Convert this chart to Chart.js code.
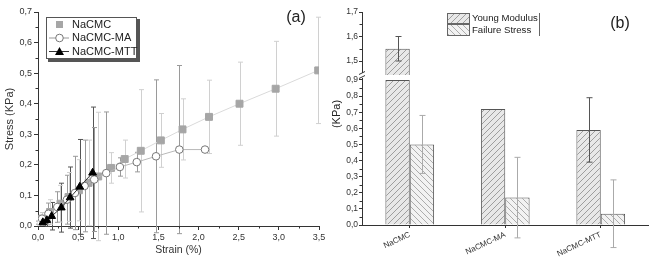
<!DOCTYPE html>
<html>
<head>
<meta charset="utf-8">
<script src="https://cdn.jsdelivr.net/npm/chart.js@4.4.1/dist/chart.umd.min.js"></script>
<style>
  body { margin: 0; background: #fff; }
  #wrap { position: relative; width: 656px; height: 262px; }
  #boxA { position: absolute; left: 0; top: 0; }
  #boxB { position: absolute; left: 330px; top: 0; }
</style>
</head>
<body>
<div id="wrap">
  <div id="boxA"><canvas id="chartA" width="330" height="262"></canvas></div>
  <div id="boxB"><canvas id="chartB" width="326" height="262"></canvas></div>
</div>
<script>
// panel (a): stress-strain curves
const nacmcStrain = [0.01, 0.05, 0.15, 0.28, 0.38, 0.51, 0.63, 0.75, 0.91, 1.08, 1.28, 1.53, 1.80, 2.13, 2.51, 2.96, 3.49];
const nacmcStress = [0.008, 0.024, 0.046, 0.073, 0.095, 0.117, 0.141, 0.162, 0.19, 0.219, 0.246, 0.28, 0.316, 0.357, 0.40, 0.449, 0.509];
const nacmcErr = [0.005, 0.02, 0.04, 0.06, 0.08, 0.10, 0.14, 0.21, 0.05, 0.062, 0.2, 0.088, 0.1, 0.12, 0.136, 0.155, 0.174];

const maStrain = [0.0, 0.05, 0.13, 0.24, 0.36, 0.46, 0.58, 0.70, 0.85, 1.02, 1.23, 1.47, 1.76, 2.08];
const maStress = [0.011, 0.024, 0.040, 0.062, 0.086, 0.108, 0.131, 0.152, 0.173, 0.193, 0.209, 0.228, 0.25, 0.25];
const maErr = [0.005, 0.02, 0.035, 0.05, 0.08, 0.12, 0.15, 0.17, 0.2, 0.03, 0.032, 0.25, 0.275, 0.0];

const mttStrain = [0.06, 0.11, 0.17, 0.29, 0.40, 0.52, 0.68];
const mttStress = [0.012, 0.019, 0.032, 0.060, 0.093, 0.128, 0.174];
const mttErr = [0.01, 0.02, 0.045, 0.08, 0.1, 0.155, 0.215];

// panel (b): moduli
const samples = ['NaCMC', 'NaCMC-MA', 'NaCMC-MTT'];
const youngModulus = [1.55, 0.72, 0.59];
const youngErr = [0.05, 0, 0.2];
const failureStress = [0.50, 0.17, 0.07];
const failureErr = [0.18, 0.25, 0.21];
const lowTicks = [0, 0.1, 0.2, 0.3, 0.4, 0.5, 0.6, 0.7, 0.8, 0.9];
const highTicks = [1.5, 1.6, 1.7];
const breakLow = 0.931, breakHigh = 1.443;

const FONT = "'Liberation Sans', Arial, sans-serif";
const comma = v => v.toFixed(1).replace('.', ',');
const pts = (xs, ys) => xs.map((x, i) => ({x: x, y: ys[i]}));

function hatch(dir, bg, fg) {
    const c = document.createElement('canvas');
    c.width = 6; c.height = 6;
    const g = c.getContext('2d');
    g.fillStyle = bg; g.fillRect(0, 0, 6, 6);
    g.strokeStyle = fg; g.lineWidth = 0.9;
    g.beginPath();
    if (dir > 0) {
        g.moveTo(-1, 7); g.lineTo(7, -1);
        g.moveTo(-4, 4); g.lineTo(4, -4);
        g.moveTo(2, 10); g.lineTo(10, 2);
    } else {
        g.moveTo(-1, -1); g.lineTo(7, 7);
        g.moveTo(-4, 2); g.lineTo(4, 10);
        g.moveTo(2, -4); g.lineTo(10, 4);
    }
    g.stroke();
    return document.createElement('canvas').getContext('2d').createPattern(c, 'repeat');
}
const youngFill = hatch(1, '#e8e8e8', '#959595');
const failFill = hatch(-1, '#f2f2f2', '#a4a4a4');

const minorTicks = {
    id: 'minorTicks',
    afterDraw(chart, args, opts) {
        const ctx = chart.ctx;
        ctx.save();
        ctx.strokeStyle = '#333';
        ctx.lineWidth = 1;
        (opts.axes || []).forEach(id => {
            const s = chart.scales[id];
            const t = s.ticks;
            for (let k = 0; k < t.length - 1; k++) {
                const p = Math.round(s.getPixelForValue((t[k].value + t[k + 1].value) / 2)) + 0.5;
                ctx.beginPath();
                if (s.isHorizontal()) { ctx.moveTo(p, s.top); ctx.lineTo(p, s.top + 2.5); }
                else { ctx.moveTo(s.right, p); ctx.lineTo(s.right - 2.5, p); }
                ctx.stroke();
            }
        });
        ctx.restore();
    }
};

function vbar(ctx, x, y1, y2, cap) {
    ctx.beginPath();
    ctx.moveTo(x, y1); ctx.lineTo(x, y2);
    ctx.moveTo(x - cap, y1); ctx.lineTo(x + cap, y1);
    ctx.moveTo(x - cap, y2); ctx.lineTo(x + cap, y2);
    ctx.stroke();
}

const errBarsA = {
    id: 'errBarsA',
    beforeDatasetsDraw(chart) {
        const {ctx, scales: {x, y}} = chart;
        ctx.save();
        ctx.lineWidth = 1;
        chart.data.datasets.forEach(ds => {
            ctx.strokeStyle = ds.errColor;
            ds.data.forEach((p, i) => {
                const e = ds.errors[i];
                if (!e) return;
                const px = Math.round(x.getPixelForValue(p.x)) + 0.5;
                vbar(ctx, px, y.getPixelForValue(p.y + e), y.getPixelForValue(p.y - e), 2.5);
            });
        });
        ctx.restore();
    }
};

const legendA = {
    id: 'legendA',
    afterDraw(chart) {
        const ctx = chart.ctx;
        ctx.save();
        ctx.fillStyle = '#555';
        ctx.fillRect(48, 19, 92, 43);
        ctx.fillStyle = '#fff';
        ctx.fillRect(46, 17, 91, 42);
        ctx.strokeStyle = '#555';
        ctx.lineWidth = 1;
        ctx.strokeRect(46.5, 17.5, 90, 41);
        const rows = [24.5, 38, 51.5];
        ctx.fillStyle = '#a6a6a6';
        ctx.fillRect(56, rows[0] - 3.5, 7, 7);
        ctx.strokeStyle = '#999';
        ctx.beginPath(); ctx.moveTo(49, rows[1]); ctx.lineTo(69, rows[1]); ctx.stroke();
        ctx.beginPath(); ctx.arc(59.5, rows[1], 3.8, 0, Math.PI * 2);
        ctx.fillStyle = '#fff'; ctx.fill(); ctx.strokeStyle = '#777'; ctx.stroke();
        ctx.strokeStyle = '#333';
        ctx.beginPath(); ctx.moveTo(49, rows[2]); ctx.lineTo(69, rows[2]); ctx.stroke();
        ctx.fillStyle = '#000';
        ctx.beginPath();
        ctx.moveTo(59.5, rows[2] - 4.5); ctx.lineTo(64, rows[2] + 3.5); ctx.lineTo(55, rows[2] + 3.5);
        ctx.closePath(); ctx.fill();
        ctx.fillStyle = '#222';
        ctx.font = '11px ' + FONT;
        ctx.textBaseline = 'middle';
        ['NaCMC', 'NaCMC-MA', 'NaCMC-MTT'].forEach((t, i) => ctx.fillText(t, 72, rows[i]));
        ctx.font = '16px ' + FONT;
        ctx.textAlign = 'center';
        ctx.fillText('(a)', 296, 18);
        ctx.restore();
    }
};

const tickFont = {family: FONT, size: 9};

new Chart(document.getElementById('chartA'), {
    type: 'scatter',
    data: {
        datasets: [{
            label: 'NaCMC-MTT',
            data: pts(mttStrain, mttStress),
            errors: mttErr, errColor: '#555',
            showLine: true, borderColor: '#333', borderWidth: 1,
            pointStyle: 'triangle', pointRadius: 4.5,
            pointBackgroundColor: '#000', pointBorderColor: '#000'
        }, {
            label: 'NaCMC-MA',
            data: pts(maStrain, maStress),
            errors: maErr, errColor: '#9a9a9a',
            showLine: true, borderColor: '#b8b8b8', borderWidth: 1,
            pointStyle: 'circle', pointRadius: 3.8, pointBorderWidth: 1,
            pointBackgroundColor: '#fff', pointBorderColor: '#777'
        }, {
            label: 'NaCMC',
            data: pts(nacmcStrain, nacmcStress),
            errors: nacmcErr, errColor: '#d0d0d0',
            showLine: true, borderColor: '#dadada', borderWidth: 1,
            pointStyle: 'rect', pointRadius: 4.9,
            pointBackgroundColor: '#a6a6a6', pointBorderColor: '#a6a6a6'
        }]
    },
    options: {
        responsive: false,
        animation: false,
        layout: {padding: {top: 12, right: 11, left: 0, bottom: 0}},
        plugins: {
            legend: {display: false},
            tooltip: {enabled: false},
            minorTicks: {axes: ['x', 'y']}
        },
        scales: {
            x: {
                type: 'linear', min: 0, max: 3.5,
                afterFit: s => { s.height = 36; },
                grid: {drawOnChartArea: false, tickLength: 4, color: '#333'},
                border: {color: '#333'},
                ticks: {stepSize: 0.5, padding: 2, color: '#333', font: tickFont, callback: comma, maxRotation: 0},
                title: {display: true, text: 'Strain (%)', color: '#333', font: {family: FONT, size: 10.5}, padding: 6}
            },
            y: {
                min: 0, max: 0.7,
                afterFit: s => { s.width = 38; },
                grid: {drawOnChartArea: false, tickLength: 4, color: '#333'},
                border: {color: '#333'},
                ticks: {stepSize: 0.1, padding: 2, color: '#333', font: tickFont, callback: comma},
                title: {display: true, text: 'Stress (KPa)', color: '#333', font: {family: FONT, size: 11}, padding: 3}
            }
        }
    },
    plugins: [errBarsA, minorTicks, legendA]
});

const errBarsB = {
    id: 'errBarsB',
    afterDatasetsDraw(chart) {
        const {ctx, scales} = chart;
        ctx.save();
        ctx.lineWidth = 1;
        const series = [
            {vals: youngModulus, errs: youngErr, color: '#555'},
            {vals: failureStress, errs: failureErr, color: '#aaa'}
        ];
        series.forEach((s, k) => {
            ctx.strokeStyle = s.color;
            s.vals.forEach((v, i) => {
                if (!s.errs[i]) return;
                const high = v > breakLow;
                const meta = chart.getDatasetMeta(k === 0 ? (high ? 1 : 0) : 2);
                const ax = scales[high ? 'yHigh' : 'yLow'];
                const px = Math.round(meta.data[i].x) + 0.5;
                vbar(ctx, px, ax.getPixelForValue(v + s.errs[i]), ax.getPixelForValue(v - s.errs[i]), 3);
            });
        });
        ctx.restore();
    }
};

const decoB = {
    id: 'decoB',
    afterDraw(chart) {
        const {ctx, scales: {yLow, yHigh}} = chart;
        ctx.save();
        // axis break
        const x0 = yLow.right;
        const yb = yHigh.bottom;
        ctx.fillStyle = '#fff';
        ctx.fillRect(x0 - 3, yb - 2, 6, 5);
        ctx.strokeStyle = '#333';
        ctx.lineWidth = 1;
        ctx.beginPath();
        ctx.moveTo(x0 - 3, yb - 0.5); ctx.lineTo(x0 + 3, yb - 3.5);
        ctx.moveTo(x0 - 3, yb + 3.5); ctx.lineTo(x0 + 3, yb + 0.5);
        ctx.stroke();
        // axis title
        ctx.fillStyle = '#222';
        ctx.font = '11px ' + FONT;
        ctx.textAlign = 'center';
        ctx.textBaseline = 'middle';
        ctx.save();
        ctx.translate(7, 114);
        ctx.rotate(-Math.PI / 2);
        ctx.fillText('(KPa)', 0, 0);
        ctx.restore();
        // legend
        ctx.fillStyle = youngFill;
        ctx.fillRect(117, 13, 23, 11);
        ctx.fillStyle = failFill;
        ctx.fillRect(117, 25, 23, 11);
        ctx.strokeStyle = '#666';
        ctx.strokeRect(117.5, 13.5, 22, 10);
        ctx.strokeRect(117.5, 24.5, 22, 11);
        ctx.beginPath(); ctx.moveTo(209.5, 13); ctx.lineTo(209.5, 36); ctx.stroke();
        ctx.fillStyle = '#222';
        ctx.textAlign = 'left';
        ctx.font = '9.6px ' + FONT;
        ctx.fillText('Young Modulus', 142, 18.5);
        ctx.fillText('Failure Stress', 142, 30.5);
        ctx.font = '16px ' + FONT;
        ctx.textAlign = 'center';
        ctx.fillText('(b)', 290, 24);
        ctx.restore();
    }
};

const yTicksB = {autoSkip: false, padding: 1, color: '#333', font: {family: FONT, size: 8.5}, callback: comma};

new Chart(document.getElementById('chartB'), {
    type: 'bar',
    data: {
        labels: samples,
        datasets: [{
            label: 'Young Modulus',
            data: youngModulus.map(v => Math.min(v, 0.9)),
            yAxisID: 'yLow', stack: 'ym',
            backgroundColor: youngFill, borderColor: '#555', borderWidth: 1
        }, {
            label: 'Young Modulus (upper)',
            data: youngModulus.map(v => v > breakLow ? v : null),
            yAxisID: 'yHigh', stack: 'ym', base: breakHigh,
            backgroundColor: youngFill, borderColor: '#555', borderWidth: 1,
            borderSkipped: 'bottom'
        }, {
            label: 'Failure Stress',
            data: failureStress,
            yAxisID: 'yLow', stack: 'fs',
            backgroundColor: failFill, borderColor: '#555', borderWidth: 1
        }]
    },
    options: {
        responsive: false,
        animation: false,
        categoryPercentage: 0.51,
        barPercentage: 1,
        layout: {padding: {top: 12, right: 7.5, left: 0, bottom: 0}},
        plugins: {
            legend: {display: false},
            tooltip: {enabled: false},
            minorTicks: {axes: ['yLow', 'yHigh']}
        },
        scales: {
            x: {
                afterFit: s => { s.height = 37; },
                grid: {drawOnChartArea: false, offset: false, tickLength: 3, color: '#333'},
                border: {color: '#333'},
                ticks: {color: '#333', font: {family: FONT, size: 8}, minRotation: 25, maxRotation: 25, padding: 2}
            },
            yLow: {
                type: 'linear', position: 'left', stack: 'b', stackWeight: 150,
                min: 0, max: breakLow, stacked: false,
                afterFit: s => { s.width = 32; },
                afterBuildTicks: s => { s.ticks = lowTicks.map(v => ({value: v})); },
                grid: {drawOnChartArea: false, tickLength: 3, color: '#333'},
                border: {color: '#333'},
                ticks: yTicksB
            },
            yHigh: {
                type: 'linear', position: 'left', stack: 'b', stackWeight: 63,
                min: breakHigh, max: 1.7, stacked: false,
                afterFit: s => { s.width = 32; },
                afterBuildTicks: s => { s.ticks = highTicks.map(v => ({value: v})); },
                grid: {drawOnChartArea: false, tickLength: 3, color: '#333'},
                border: {color: '#333'},
                ticks: yTicksB
            }
        }
    },
    plugins: [errBarsB, minorTicks, decoB]
});
</script>
</body>
</html>
